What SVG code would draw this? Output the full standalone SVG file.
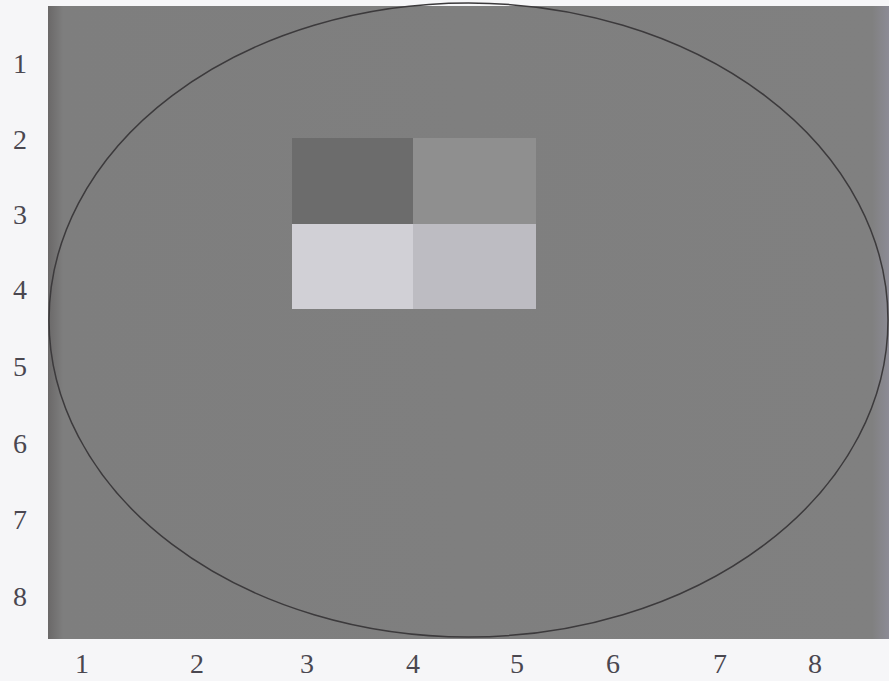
<svg xmlns="http://www.w3.org/2000/svg" width="889" height="681" viewBox="0 0 889 681">
<style>
.lbl{font-family:"Liberation Serif","Times New Roman",serif;font-size:28px;fill:#4a4750;text-anchor:middle}
</style>
<defs>
<linearGradient id="edge" x1="0" y1="0" x2="1" y2="0">
<stop offset="0" stop-color="#6a6868"/>
<stop offset="0.018" stop-color="#7e7e7e"/>
<stop offset="0.98" stop-color="#808080"/>
<stop offset="1" stop-color="#8c8b95"/>
</linearGradient>
</defs>
<rect x="0" y="0" width="889" height="681" fill="#f6f6f8"/>
<g id="field">
<rect x="48" y="6" width="841" height="633" fill="url(#edge)"/>
</g>
<g id="squares">
<rect id="sq-dark" x="292" y="138" width="121" height="86" fill="#6c6c6c"/>
<rect id="sq-mid" x="413" y="138" width="123" height="86" fill="#8f8f8f"/>
<rect id="sq-light" x="292" y="224" width="121" height="85" fill="#d1d0d6"/>
<rect id="sq-lightmid" x="413" y="224" width="123" height="85" fill="#bdbcc2"/>
</g>
<g id="connectors">
<ellipse cx="468.5" cy="320" rx="419.5" ry="317" fill="none" stroke="#3c3a3c" stroke-width="1.5"/>
</g>
<g id="y-labels">
<text class="lbl" x="20" y="73">1</text>
<text class="lbl" x="20" y="149">2</text>
<text class="lbl" x="20" y="224">3</text>
<text class="lbl" x="20" y="299">4</text>
<text class="lbl" x="20" y="376">5</text>
<text class="lbl" x="20" y="453">6</text>
<text class="lbl" x="20" y="529">7</text>
<text class="lbl" x="20" y="606">8</text>
</g>
<g id="x-labels">
<text class="lbl" x="82" y="673">1</text>
<text class="lbl" x="197" y="673">2</text>
<text class="lbl" x="307" y="673">3</text>
<text class="lbl" x="413" y="673">4</text>
<text class="lbl" x="517" y="673">5</text>
<text class="lbl" x="613" y="673">6</text>
<text class="lbl" x="720" y="673">7</text>
<text class="lbl" x="815" y="673">8</text>
</g>
</svg>
